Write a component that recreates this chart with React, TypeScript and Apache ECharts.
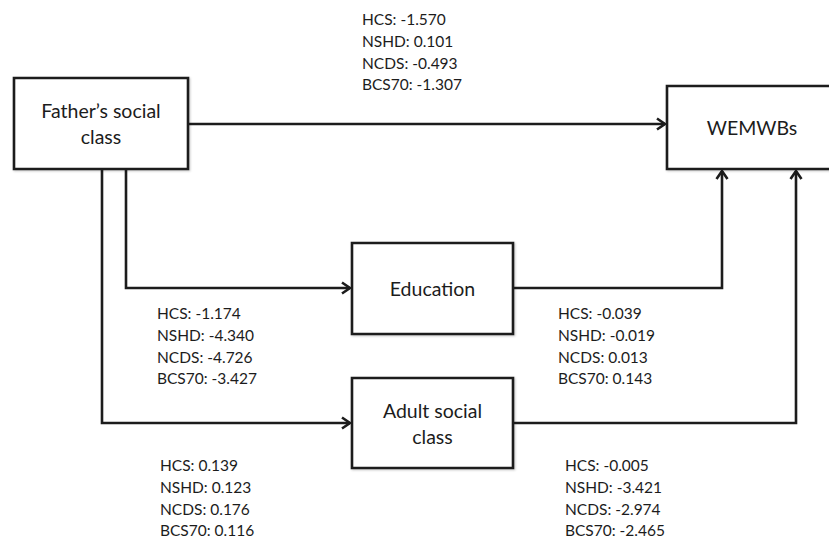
import React, { useEffect, useRef } from "react";
import * as echarts from "echarts";

const cohorts = ["HCS", "NSHD", "NCDS", "BCS70"];
const fatherToWemwbs = [-1.57, 0.101, -0.493, -1.307];
const fatherToEducation = [-1.174, -4.34, -4.726, -3.427];
const educationToWemwbs = [-0.039, -0.019, 0.013, 0.143];
const fatherToAdult = [0.139, 0.123, 0.176, 0.116];
const adultToWemwbs = [-0.005, -3.421, -2.974, -2.465];
const nodeLabels = ["Father\u2019s social\nclass", "Education", "Adult social\nclass", "WEMWBs"];

const FONT = "Lato, 'Open Sans', sans-serif";
const INK = "#1c1c1c";
const LW = 2.6;

function box(x: number, y: number, w: number, h: number, label: string, cx?: number): any[] {
  return [
    {
      type: "rect",
      shape: { x, y, width: w, height: h },
      style: {
        fill: "#fff",
        stroke: INK,
        lineWidth: LW,
        shadowColor: "rgba(0,0,0,0.22)",
        shadowBlur: 2,
        shadowOffsetX: 1,
        shadowOffsetY: 1,
      },
      z: 2,
    },
    {
      type: "text",
      x: cx ?? x + w / 2,
      y: y + h / 2,
      style: {
        text: label,
        fill: INK,
        font: `19.5px ${FONT}`,
        align: "center",
        verticalAlign: "middle",
        lineHeight: 26,
      },
      z: 3,
    },
  ];
}

function coefBlock(x: number, y: number, values: number[]): any[] {
  return cohorts.map((c, i) => ({
    type: "text",
    x,
    y: y + i * 21.8,
    style: {
      text: `${c}: ${values[i].toFixed(3)}`,
      fill: INK,
      font: `15.5px ${FONT}`,
      lineHeight: 14,
      align: "left",
      verticalAlign: "middle",
    },
    z: 3,
  }));
}

function line(points: number[][]): any {
  return {
    type: "polyline",
    shape: { points },
    style: { stroke: INK, lineWidth: LW, fill: "none", lineJoin: "miter" },
    z: 1,
  };
}

function headRight(x: number, y: number): any {
  return line([[x - 8, y - 5.5], [x, y], [x - 8, y + 5.5]]);
}
function headUp(x: number, y: number): any {
  return line([[x - 5.5, y + 8], [x, y], [x + 5.5, y + 8]]);
}

export default function App() {
  const ref = useRef<HTMLDivElement>(null);
  useEffect(() => {
    if (!ref.current) return;
    const chart = echarts.init(ref.current, undefined, { renderer: "svg" });
    const elements: any[] = [
      // connectors
      line([[188, 124], [665, 124]]),
      headRight(665, 124),
      line([[126, 169], [126, 288], [350, 288]]),
      headRight(350, 288),
      line([[102, 169], [102, 423], [350, 423]]),
      headRight(350, 423),
      line([[513, 288], [722, 288], [722, 171]]),
      headUp(722, 171),
      line([[513, 423], [796, 423], [796, 171]]),
      headUp(796, 171),
      // boxes
      ...box(14, 78, 174, 91, nodeLabels[0]),
      ...box(352, 243, 161, 91, nodeLabels[1]),
      ...box(352, 378, 161, 90, nodeLabels[2]),
      ...box(667, 86, 172, 83, nodeLabels[3], 752),
      // coefficients
      ...coefBlock(362, 19, fatherToWemwbs),
      ...coefBlock(157, 313, fatherToEducation),
      ...coefBlock(558, 313, educationToWemwbs),
      ...coefBlock(160, 465, fatherToAdult),
      ...coefBlock(565, 465, adultToWemwbs),
    ];
    chart.setOption({
      animation: false,
      backgroundColor: "#fff",
      graphic: { elements },
    });
    return () => chart.dispose();
  }, []);
  return (
    <div
      ref={ref}
      style={{ position: "fixed", left: 0, top: 0, width: 829, height: 539, background: "#fff" }}
    />
  );
}
